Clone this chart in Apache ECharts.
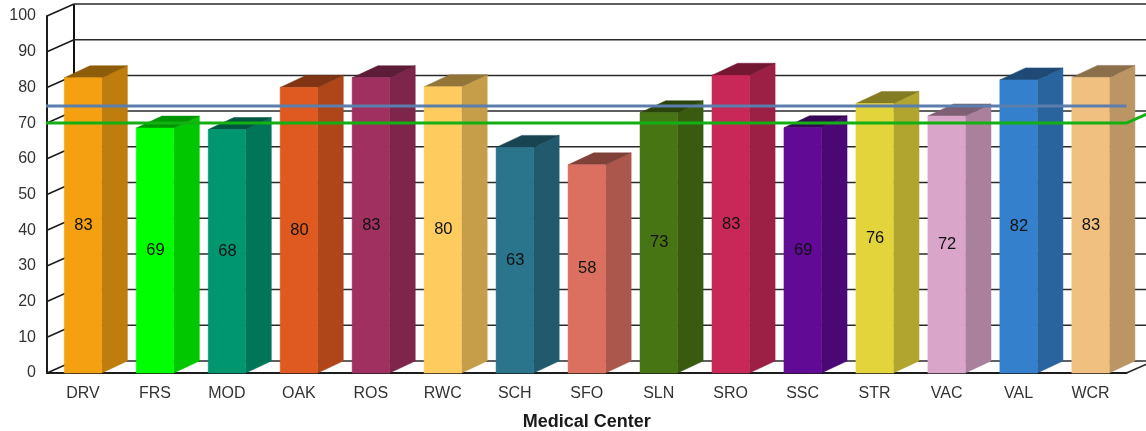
<!DOCTYPE html>
<html>
<head>
<meta charset="utf-8">
<style>
  html, body { margin: 0; padding: 0; background: #fff; }
  #chart { width: 1146px; height: 431px; }
</style>
<script src="https://cdn.jsdelivr.net/npm/echarts@6/dist/echarts.min.js"></script>
</head>
<body>
<div id="chart"></div>
<script>
  var centers = ['DRV', 'FRS', 'MOD', 'OAK', 'ROS', 'RWC', 'SCH', 'SFO', 'SLN', 'SRO', 'SSC', 'STR', 'VAC', 'VAL', 'WCR'];
  // 柱高按图上读取，标签是图上印的整数
  var scores = [82.7, 68.6, 68.2, 80, 82.7, 80.2, 63.2, 58.3, 72.9, 83.4, 68.7, 75.5, 72, 82.1, 82.8];
  var scoreLabels = ['83', '69', '68', '80', '83', '80', '63', '58', '73', '83', '69', '76', '72', '82', '83'];
  var barColors = ['#f4a010', '#00ff00', '#009670', '#df5a20', '#a03060', '#fecb5e', '#2a748c', '#dc7060',
    '#487514', '#c82858', '#600a96', '#e3d43c', '#d9a5c8', '#3580cc', '#f0c080'];
  var yTicks = [0, 10, 20, 30, 40, 50, 60, 70, 80, 90, 100];
  var blueLevel = 74.8;
  var greenLevel = 70;

  // 3D 偏移量
  var depthX = 25.7;
  var wallX = 27;
  var depthY = -12;

  function shade(hex, k) {
    var n = parseInt(hex.slice(1), 16);
    var r = Math.round((n >> 16 & 255) * k);
    var g = Math.round((n >> 8 & 255) * k);
    var b = Math.round((n & 255) * k);
    return 'rgb(' + r + ',' + g + ',' + b + ')';
  }

  function line(x1, y1, x2, y2, color, width) {
    return {
      type: 'line',
      shape: { x1: x1, y1: y1, x2: x2, y2: y2 },
      style: { stroke: color, lineWidth: width }
    };
  }

  // 后墙和侧墙的网格线
  function renderWall(params, api) {
    var box = params.coordSys;
    var y = api.coord([0, api.value(1)])[1];
    var kids = [
      line(box.x, y, box.x + wallX, y + depthY, '#1c1c1c', 1.6),
      line(box.x + wallX, y + depthY, box.x + box.width + wallX, y + depthY, '#2a2a2a', 1.5)
    ];
    if (api.value(1) === 0) {
      kids.push(line(box.x + wallX, y + depthY, box.x + wallX, box.y + depthY, '#111', 2));
      kids.push(line(box.x + box.width, y, box.x + box.width + wallX, y + depthY, '#2a2a2a', 1.5));
    }
    return { type: 'group', children: kids };
  }

  function renderBar(params, api) {
    var i = params.dataIndex;
    var base = api.coord([i, 0]);
    var top = api.coord([i, api.value(1)]);
    var w = api.size([1, 0])[0] * 0.52;
    var x0 = base[0] - w / 2;
    var x1 = base[0] + w / 2;
    var c = barColors[i];
    function poly(points, fill) {
      return {
        type: 'polygon',
        shape: { points: points },
        style: { fill: fill, stroke: fill, lineWidth: 0.5 }
      };
    }
    return {
      type: 'group',
      children: [
        poly([[x1, base[1]], [x1 + depthX, base[1] + depthY], [x1 + depthX, top[1] + depthY], [x1, top[1]]], shade(c, 0.78)),
        poly([[x0, top[1]], [x1, top[1]], [x1 + depthX, top[1] + depthY], [x0 + depthX, top[1] + depthY]], shade(c, 0.58)),
        poly([[x0, base[1]], [x1, base[1]], [x1, top[1]], [x0, top[1]]], c),
        {
          type: 'text',
          z2: 30,
          style: {
            text: scoreLabels[i],
            x: base[0] + 0.5,
            y: (base[1] + top[1]) / 2,
            align: 'center',
            verticalAlign: 'middle',
            fill: '#111',
            font: '16.5px "Liberation Sans"'
          }
        }
      ]
    };
  }

  // 两条参考线，绿线在右端折向后墙
  function renderLevels(params, api) {
    var box = params.coordSys;
    var yBlue = api.coord([0, blueLevel])[1];
    var yGreen = api.coord([0, greenLevel])[1];
    return {
      type: 'group',
      children: [
        line(box.x - 1, yBlue, box.x + box.width, yBlue, '#5b7eac', 3),
        {
          type: 'polyline',
          shape: { points: [[box.x - 1, yGreen], [box.x + box.width, yGreen], [box.x + box.width + wallX, yGreen + depthY]] },
          style: { stroke: '#12b012', lineWidth: 3, fill: 'none' }
        }
      ]
    };
  }

  var myChart = echarts.init(document.getElementById('chart'));
  myChart.setOption({
    animation: false,
    textStyle: { fontFamily: '"Liberation Sans"' },
    grid: { left: 47, top: 16, width: 1079.5, height: 357, outerBoundsMode: 'none' },
    xAxis: {
      type: 'category',
      data: centers,
      name: 'Medical Center',
      nameLocation: 'middle',
      nameGap: 40,
      nameTextStyle: { fontSize: 18, fontWeight: 'bold', color: '#1a1a1a' },
      axisTick: { show: false },
      axisLine: { lineStyle: { color: '#1c1c1c', width: 2 } },
      axisLabel: { fontSize: 16, color: '#333', margin: 13 }
    },
    yAxis: {
      type: 'value',
      min: 0,
      max: 100,
      interval: 10,
      axisTick: { show: false },
      axisLine: { show: true, lineStyle: { color: '#1c1c1c', width: 2 } },
      splitLine: { show: false },
      axisLabel: { fontSize: 16, color: '#333', margin: 11 }
    },
    series: [
      {
        type: 'custom',
        z: 1,
        clip: false,
        renderItem: renderWall,
        data: yTicks.map(function (t) { return [0, t]; })
      },
      {
        type: 'custom',
        z: 2,
        clip: false,
        renderItem: renderBar,
        data: scores.map(function (v, i) { return [i, v]; })
      },
      {
        type: 'custom',
        z: 3,
        clip: false,
        renderItem: renderLevels,
        data: [[0, greenLevel]]
      }
    ]
  });
</script>
</body>
</html>
